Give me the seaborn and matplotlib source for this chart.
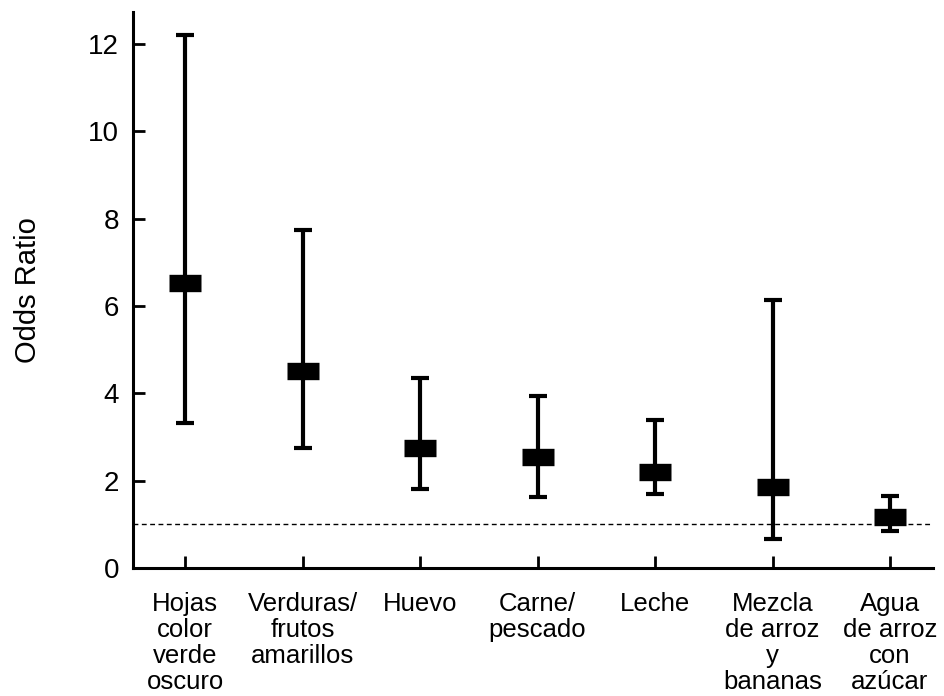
import matplotlib
matplotlib.use("Agg")
import matplotlib.pyplot as plt
import seaborn as sns
import numpy as np
import pandas as pd

categories = ["Hojas\ncolor\nverde\noscuro", "Verduras/\nfrutos\namarillos", "Huevo",
              "Carne/\npescado", "Leche", "Mezcla\nde arroz\ny\nbananas", "Agua\nde arroz\ncon\nazúcar"]
odds_ratio = [6.52, 4.50, 2.75, 2.55, 2.20, 1.86, 1.17]
ci_lower = [3.32, 2.75, 1.81, 1.62, 1.69, 0.66, 0.85]
ci_upper = [12.20, 7.73, 4.36, 3.94, 3.40, 6.13, 1.65]
y_ticks = [0, 2, 4, 6, 8, 10, 12]
reference_line = 1.0

df = pd.DataFrame({"cat": categories, "or": odds_ratio, "lo": ci_lower, "hi": ci_upper})

sns.set_style("ticks", {"axes.edgecolor": "black", "text.color": "black",
                        "axes.labelcolor": "black", "xtick.color": "black",
                        "ytick.color": "black"})
plt.rcParams["font.family"] = ["Liberation Sans", "DejaVu Sans"]

fig = plt.figure(figsize=(9.45, 6.96), dpi=100)
ax = fig.add_axes([133/945, 1 - 568/696, (933 - 133)/945, (568 - 12)/696])

x = np.arange(len(df))
yerr = np.vstack([df["or"] - df["lo"], df["hi"] - df["or"]])
ax.errorbar(x, df["or"], yerr=yerr, fmt="none", ecolor="black",
            elinewidth=3.0, capsize=6.5, capthick=3.0, zorder=2)

sns.pointplot(data=df, x="cat", y="or", order=categories, color="black",
              linestyle="none", marker="_", markersize=23.5, markeredgewidth=12.5,
              errorbar=None, ax=ax, zorder=3)

ax.axhline(reference_line, color="black", lw=1.0, linestyle=(0, (3.5, 2.5)), zorder=1)

ax.set_xlim(-0.443, 6.366)
ax.set_ylim(0, 12.73)
ax.set_yticks(y_ticks)
ax.set_yticklabels([str(t) for t in y_ticks], fontsize=20)
ax.set_xticks(x)
ax.set_xticklabels(categories, fontsize=18.5, linespacing=1.12, va="top")
ax.set_xlabel("")
ax.set_ylabel("Odds Ratio", fontsize=21, labelpad=33, color="black")

for side in ["top", "right"]:
    ax.spines[side].set_visible(False)
for side in ["left", "bottom"]:
    ax.spines[side].set_linewidth(2.2)
    ax.spines[side].set_color("black")
ax.tick_params(axis="both", direction="in", length=8.6, width=2.0, colors="black")
ax.tick_params(axis="y", pad=10)
ax.tick_params(axis="x", pad=17)

fig.savefig("out.png", dpi=100)
